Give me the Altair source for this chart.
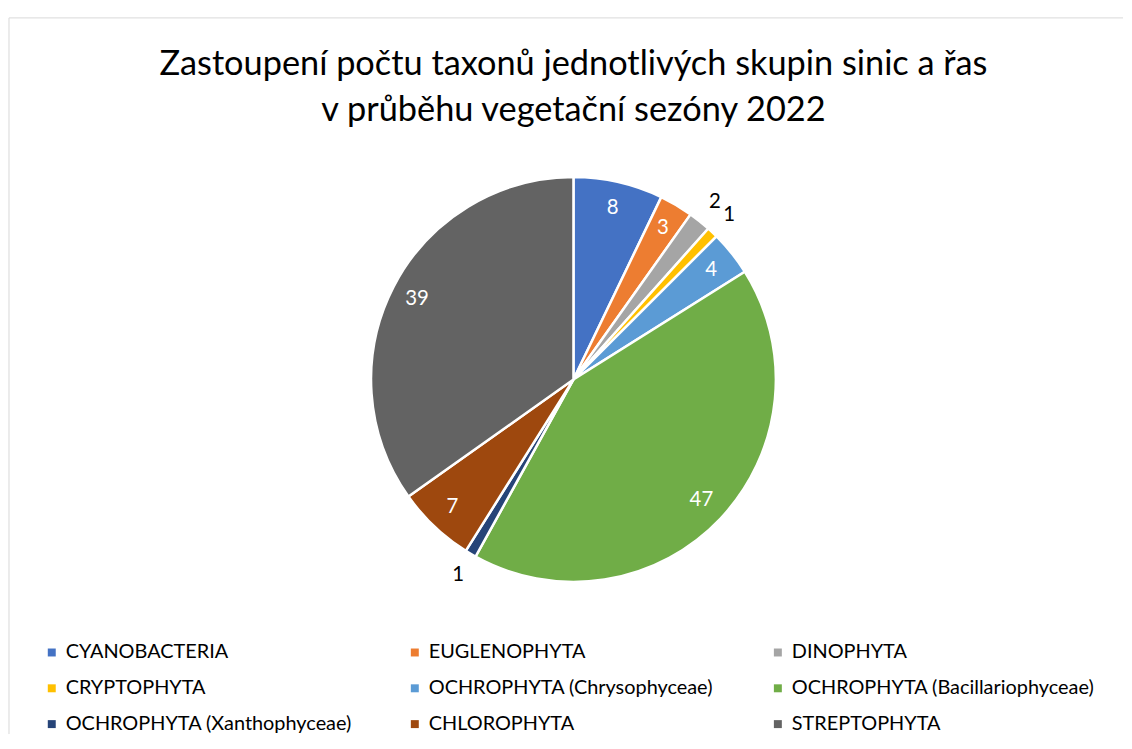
import altair as alt
import pandas as pd

categories = [
    "CYANOBACTERIA",
    "EUGLENOPHYTA",
    "DINOPHYTA",
    "CRYPTOPHYTA",
    "OCHROPHYTA (Chrysophyceae)",
    "OCHROPHYTA (Bacillariophyceae)",
    "OCHROPHYTA (Xanthophyceae)",
    "CHLOROPHYTA",
    "STREPTOPHYTA",
]
values = [8, 3, 2, 1, 4, 47, 1, 7, 39]
colors = ["#4472C4", "#ED7D31", "#A5A5A5", "#FFC000", "#5B9BD5",
          "#70AD47", "#264478", "#9E480E", "#636363"]

title_lines = ["Zastoupení počtu taxonů jednotlivých skupin sinic a řas",
               "v průběhu vegetační sezóny 2022"]

df = pd.DataFrame({"category": categories, "value": values,
                   "idx": list(range(len(categories)))})

FONT = "Lato"
W, H = 1120, 585
CX, CY = 567.5, 228.5
R = 203.5

base = alt.Chart(df)

color = alt.Color(
    "category:N",
    scale=alt.Scale(domain=categories, range=colors),
    sort=categories,
    legend=alt.Legend(
        title=None, orient="none", legendX=33, legendY=493,
        direction="horizontal", columns=3, gridAlign="all",
        symbolType="square", symbolSize=64, symbolStrokeWidth=0,
        labelFont=FONT, labelFontSize=20, labelColor="#000000",
        labelLimit=500, labelOffset=4, columnPadding=36, rowPadding=16,
        padding=0,
    ),
)

arcs = base.mark_arc(stroke="white", strokeWidth=2.5).encode(
    theta=alt.Theta("value:Q", stack=True),
    order=alt.Order("idx:Q"),
    color=color,
    x=alt.value(CX), y=alt.value(CY),
    radius=alt.value(R),
)

inside = base.mark_text(font=FONT, fontSize=20.5, color="white").encode(
    theta=alt.Theta("value:Q", stack=True),
    order=alt.Order("idx:Q"),
    text="value:Q",
    x=alt.value(CX), y=alt.value(CY),
    radius=alt.value(177),
    opacity=alt.condition("datum.value >= 3", alt.value(1), alt.value(0)),
)

outside = base.mark_text(font=FONT, fontSize=20.5, color="#000000").encode(
    theta=alt.Theta("value:Q", stack=True),
    order=alt.Order("idx:Q"),
    text="value:Q",
    x=alt.value(CX), y=alt.value(CY),
    radius=alt.value(228),
    opacity=alt.condition("datum.value < 3", alt.value(1), alt.value(0)),
)

border_left = alt.Chart(pd.DataFrame({"k": [0]})).mark_rule(
    color="#D9D9D9", strokeWidth=1).encode(
    x=alt.value(0), y=alt.value(-135), y2=alt.value(H))
border_top = alt.Chart(pd.DataFrame({"k": [0]})).mark_rule(
    color="#D9D9D9", strokeWidth=1).encode(
    x=alt.value(0), x2=alt.value(W), y=alt.value(-135))

chart = alt.layer(border_left, border_top, arcs, inside, outside).properties(
    width=W, height=H,
    padding={"left": 0, "top": 7, "right": 0, "bottom": 0},
    title=alt.TitleParams(
        text=title_lines, font=FONT, fontSize=34.5, fontWeight="normal",
        color="#000000", anchor="middle", frame="group", dx=7.5,
        offset=-111.5, lineHeight=46,
    ),
).configure_view(strokeWidth=0)

chart.save("out.html", embed_options={"renderer": "svg", "actions": False})
